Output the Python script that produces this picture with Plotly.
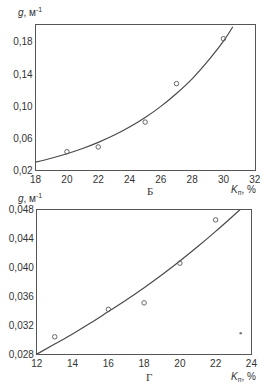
import plotly.graph_objects as go

W, H = 266, 389

# Panel Б
kb_pts = [20, 22, 25, 27, 30]
gb_pts = [0.043, 0.049, 0.080, 0.128, 0.184]
kb_fit = [18, 19, 20, 21, 22, 23, 24, 25, 26, 27, 28, 29, 30, 30.6]
gb_fit = [0.030, 0.0349, 0.0405, 0.047, 0.0547, 0.0635, 0.0738, 0.0857,
          0.0996, 0.1157, 0.134, 0.156, 0.181, 0.199]
yb_ticks = [0.02, 0.06, 0.10, 0.14, 0.18]
xb_ticks = [18, 20, 22, 24, 26, 28, 30, 32]

# Panel Г
kg_pts = [13, 16, 18, 20, 22]
gg_pts = [0.0304, 0.0342, 0.0351, 0.0406, 0.0466]
kg_dot = [23.4]
gg_dot = [0.0309]
kg_fit = [12, 13, 14, 15, 16, 17, 18, 19, 20, 21, 22, 23, 23.36]
gg_fit = [0.0280, 0.0294, 0.0308, 0.0323, 0.0339, 0.0355, 0.0372, 0.0390,
          0.0409, 0.0429, 0.0450, 0.0472, 0.0480]
yg_ticks = [0.028, 0.032, 0.036, 0.040, 0.044, 0.048]
xg_ticks = [12, 14, 16, 18, 20, 22, 24]

line_col = "#4a4a4a"
mk = dict(symbol="circle-open", size=4.5, color="#666", line=dict(width=1, color="#666"))

fig = go.Figure()
fig.add_trace(go.Scatter(x=kb_fit, y=gb_fit, mode="lines", line=dict(color=line_col, width=1.2, shape="spline"),
                         xaxis="x", yaxis="y", showlegend=False))
fig.add_trace(go.Scatter(x=kb_pts, y=gb_pts, mode="markers", marker=mk, xaxis="x", yaxis="y", showlegend=False))
fig.add_trace(go.Scatter(x=kg_fit, y=gg_fit, mode="lines", line=dict(color=line_col, width=1.2, shape="spline"),
                         xaxis="x2", yaxis="y2", showlegend=False))
fig.add_trace(go.Scatter(x=kg_pts, y=gg_pts, mode="markers", marker=mk, xaxis="x2", yaxis="y2", showlegend=False))
fig.add_trace(go.Scatter(x=kg_dot, y=gg_dot, mode="markers", marker=dict(size=2.5, color="#777"),
                         xaxis="x2", yaxis="y2", showlegend=False))

font = dict(family="Liberation Sans, Arial, sans-serif", size=10, color="#333")
ax_common = dict(showgrid=False, zeroline=False, showline=True, linecolor="#555", linewidth=1,
                 mirror=True, ticks="", tickfont=font)

def px_x(p):
    return p / W

def px_y(p):
    return 1 - p / H

fig.update_layout(
    width=W, height=H, margin=dict(l=0, r=0, t=0, b=0),
    paper_bgcolor="white", plot_bgcolor="white", separators=", ",
    font=font,
    xaxis=dict(domain=[px_x(31), px_x(260.5)], range=[18, 32], tickvals=xb_ticks,
               anchor="y", **ax_common),
    yaxis=dict(domain=[px_y(170), px_y(20.7)], range=[0.02, 0.201], tickvals=yb_ticks,
               tickformat=".2f", anchor="x", **ax_common),
    xaxis2=dict(domain=[px_x(32.3), px_x(257)], range=[12, 24], tickvals=xg_ticks,
                anchor="y2", **ax_common),
    yaxis2=dict(domain=[px_y(359.3), px_y(210.7)], range=[0.028, 0.048], tickvals=yg_ticks,
                tickformat=".3f", anchor="x2", **ax_common),
)

ann = [
    dict(x=px_x(10), y=px_y(7), text="<i>g</i>, м<sup>-1</sup>", xanchor="left", yanchor="middle"),
    dict(x=px_x(151), y=px_y(191), text="Б", xanchor="center", yanchor="middle", font=dict(size=11, family="Liberation Serif", color="#333")),
    dict(x=px_x(264), y=px_y(190), text="<i>K</i><sub>п</sub>, %", xanchor="right", yanchor="middle"),
    dict(x=px_x(10), y=px_y(199), text="<i>g</i>, м<sup>-1</sup>", xanchor="left", yanchor="middle"),
    dict(x=px_x(150), y=px_y(383), text="Г", xanchor="center", yanchor="middle", font=dict(size=11, family="Liberation Serif", color="#333")),
    dict(x=px_x(264), y=px_y(383), text="<i>K</i><sub>п</sub>, %", xanchor="right", yanchor="middle"),
]
for a in ann:
    a.update(xref="paper", yref="paper", showarrow=False)
    a.setdefault("font", font)
    fig.add_annotation(**a)

fig.write_html("out.html")
